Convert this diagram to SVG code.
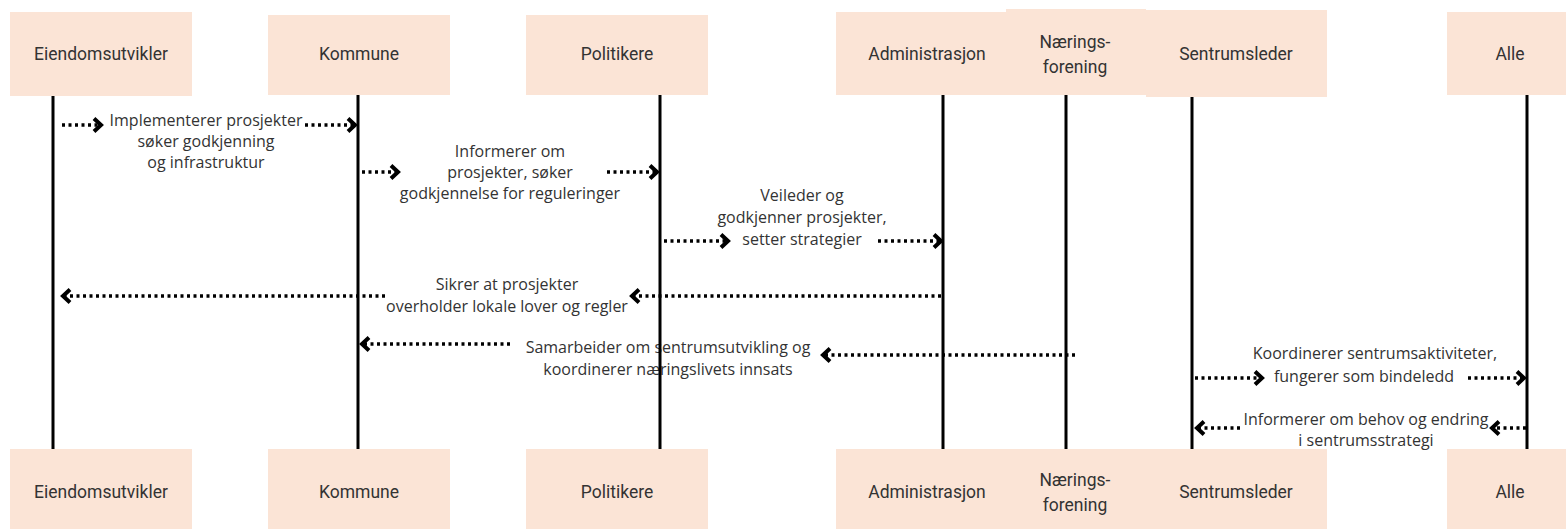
<svg xmlns="http://www.w3.org/2000/svg" width="1566" height="529" viewBox="0 0 1566 529">
  <defs>
    <marker id="chev" markerUnits="userSpaceOnUse" markerWidth="18" markerHeight="18" viewBox="-11 -9 14 18" refX="0" refY="0" orient="auto">
      <polyline points="-7,-6.5 0,0 -7,6.5" fill="none" stroke="#000" stroke-width="4" stroke-linejoin="miter"/>
    </marker>
    <style>
      .box { fill: #fbe4d6; }
      .lbl { font-family: Roboto, "Open Sans", sans-serif; font-size: 17.5px; fill: #333; text-anchor: middle; }
      .msg { font-family: "Open Sans", "DejaVu Sans", sans-serif; font-size: 16px; fill: #333; text-anchor: middle; }
      .life { stroke: #000; stroke-width: 3; }
      .dot { stroke: #000; stroke-width: 3.5; stroke-dasharray: 3 3.5; fill: none; marker-end: url(#chev); }
    </style>
  </defs>

  <!-- message labels -->
  <g id="labels">
    <text class="msg" x="206" y="126">Implementerer prosjekter</text>
    <text class="msg" x="206" y="147">søker godkjenning</text>
    <text class="msg" x="206" y="168">og infrastruktur</text>

    <text class="msg" x="510" y="157">Informerer om</text>
    <text class="msg" x="510" y="178">prosjekter, søker</text>
    <text class="msg" x="510" y="199">godkjennelse for reguleringer</text>

    <text class="msg" x="802" y="201">Veileder og</text>
    <text class="msg" x="802" y="223">godkjenner prosjekter,</text>
    <text class="msg" x="802" y="245">setter strategier</text>

    <text class="msg" x="507" y="290">Sikrer at prosjekter</text>
    <text class="msg" x="507" y="312">overholder lokale lover og regler</text>

    <text class="msg" x="668" y="353">Samarbeider om sentrumsutvikling og</text>
    <text class="msg" x="668" y="375">koordinerer næringslivets innsats</text>

    <text class="msg" x="1375" y="359">Koordinerer sentrumsaktiviteter,</text>
    <text class="msg" x="1364" y="382">fungerer som bindeledd</text>

    <text class="msg" x="1366" y="425">Informerer om behov og endring</text>
    <text class="msg" x="1366" y="446">i sentrumsstrategi</text>
  </g>

  <!-- lifelines -->
  <g id="lifelines">
    <line class="life" x1="53" y1="95" x2="53" y2="449"/>
    <line class="life" x1="358" y1="95" x2="358" y2="449"/>
    <line class="life" x1="660" y1="95" x2="660" y2="449"/>
    <line class="life" x1="943" y1="95" x2="943" y2="449"/>
    <line class="life" x1="1066" y1="95" x2="1066" y2="449"/>
    <line class="life" x1="1192" y1="95" x2="1192" y2="449"/>
    <line class="life" x1="1527" y1="95" x2="1527" y2="449"/>
  </g>

  <!-- connectors -->
  <g id="connectors">
    <line class="dot" x1="62" y1="125" x2="101" y2="125"/>
    <line class="dot" x1="305" y1="125" x2="355" y2="125"/>

    <line class="dot" x1="362" y1="172" x2="398" y2="172"/>
    <line class="dot" x1="607" y1="172" x2="657" y2="172"/>

    <line class="dot" x1="664" y1="241" x2="728" y2="241"/>
    <line class="dot" x1="878" y1="241" x2="941" y2="241"/>

    <line class="dot" x1="941" y1="296" x2="632" y2="296"/>
    <line class="dot" x1="385" y1="296" x2="63" y2="296"/>

    <line class="dot" x1="1075" y1="355" x2="823" y2="355"/>
    <line class="dot" x1="510" y1="344" x2="362" y2="344"/>

    <line class="dot" x1="1195" y1="378" x2="1262" y2="378"/>
    <line class="dot" x1="1468" y1="378" x2="1524" y2="378"/>

    <line class="dot" x1="1526" y1="428" x2="1492" y2="428"/>
    <line class="dot" x1="1240" y1="428" x2="1197" y2="428"/>
  </g>

  <!-- participants, top row -->
  <g id="eiendomsutvikler-top">
    <rect class="box" x="10" y="12" width="182" height="84"/>
    <text class="lbl" x="101" y="60">Eiendomsutvikler</text>
  </g>
  <g id="kommune-top">
    <rect class="box" x="268" y="15" width="182" height="80"/>
    <text class="lbl" x="359" y="60">Kommune</text>
  </g>
  <g id="politikere-top">
    <rect class="box" x="526" y="15" width="182" height="80"/>
    <text class="lbl" x="617" y="60">Politikere</text>
  </g>
  <g id="administrasjon-top">
    <rect class="box" x="836" y="12" width="182" height="83"/>
    <text class="lbl" x="927" y="60">Administrasjon</text>
  </g>
  <g id="naeringsforening-top">
    <rect class="box" x="1006" y="9" width="140" height="86"/>
    <text class="lbl" x="1075" y="48">Nærings-</text>
    <text class="lbl" x="1075" y="73">forening</text>
  </g>
  <g id="sentrumsleder-top">
    <rect class="box" x="1146" y="10" width="181" height="87"/>
    <text class="lbl" x="1236" y="60">Sentrumsleder</text>
  </g>
  <g id="alle-top">
    <rect class="box" x="1447" y="12" width="140" height="83"/>
    <text class="lbl" x="1510" y="60">Alle</text>
  </g>

  <!-- participants, bottom row -->
  <g id="eiendomsutvikler-bottom">
    <rect class="box" x="10" y="449" width="182" height="80"/>
    <text class="lbl" x="101" y="498">Eiendomsutvikler</text>
  </g>
  <g id="kommune-bottom">
    <rect class="box" x="268" y="449" width="182" height="80"/>
    <text class="lbl" x="359" y="498">Kommune</text>
  </g>
  <g id="politikere-bottom">
    <rect class="box" x="526" y="449" width="182" height="80"/>
    <text class="lbl" x="617" y="498">Politikere</text>
  </g>
  <g id="administrasjon-bottom">
    <rect class="box" x="836" y="449" width="182" height="80"/>
    <text class="lbl" x="927" y="498">Administrasjon</text>
  </g>
  <g id="naeringsforening-bottom">
    <rect class="box" x="1006" y="449" width="140" height="80"/>
    <text class="lbl" x="1075" y="486">Nærings-</text>
    <text class="lbl" x="1075" y="511">forening</text>
  </g>
  <g id="sentrumsleder-bottom">
    <rect class="box" x="1146" y="449" width="181" height="80"/>
    <text class="lbl" x="1236" y="498">Sentrumsleder</text>
  </g>
  <g id="alle-bottom">
    <rect class="box" x="1447" y="449" width="140" height="80"/>
    <text class="lbl" x="1510" y="498">Alle</text>
  </g>
</svg>
